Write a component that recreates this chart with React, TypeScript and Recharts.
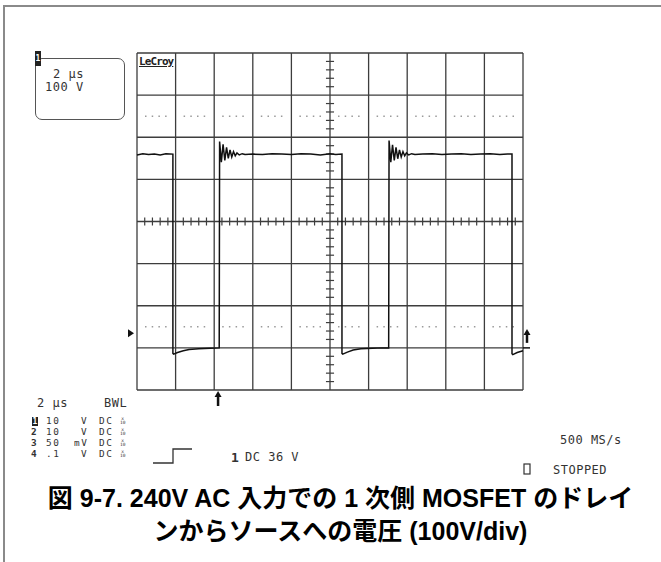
import React from "react";
import {
  LineChart,
  Line,
  XAxis,
  YAxis,
  CartesianGrid,
  ReferenceLine,
  ReferenceDot,
} from "recharts";

// time axis in µs (2 µs/div), drain voltage in V (100 V/div), 0 V = screen centre
const majorTimeTicks = [0, 2, 4, 6, 8, 10, 12, 14, 16, 18, 20];
const majorVoltTicks = [-400, -300, -200, -100, 0, 100, 200, 300, 400];
const cursorLevels = [250, -250];

const timeUs = [
  0, 0.3, 0.6, 0.9, 1.2, 1.5, 1.86,
  1.86, 1.9, 2.1, 2.4, 2.7, 3.2, 3.8, 4.26,
  4.28, 4.37, 4.46, 4.55, 4.64, 4.73, 4.82, 4.91, 5.0, 5.09, 5.18, 5.3, 5.45, 5.6,
  6.0, 6.5, 7.0, 7.5, 8.0, 8.5, 9.0, 9.5, 10.0, 10.3, 10.62,
  10.62, 10.66, 10.9, 11.2, 11.6, 12.2, 12.7, 13.04,
  13.06, 13.15, 13.24, 13.33, 13.42, 13.51, 13.6, 13.69, 13.78, 13.87, 13.96, 14.08, 14.23, 14.4,
  14.8, 15.3, 15.8, 16.3, 16.8, 17.3, 17.8, 18.3, 18.8, 19.2, 19.43,
  19.43, 19.47, 19.7, 20,
];
const drainV = [
  158, 161, 159, 160, 158, 161, 160,
  -313, -315, -311, -307, -304, -302, -301, -300,
  190, 141, 183, 145, 176, 150, 170, 153, 166, 156, 163, 158, 161, 159,
  160, 159, 161, 160, 159, 161, 160, 158, 161, 159, 160,
  -313, -315, -310, -305, -302, -301, -300, -300,
  192, 141, 182, 145, 176, 149, 170, 153, 166, 156, 163, 158, 161, 159,
  160, 161, 159, 160, 161, 159, 160, 161, 159, 160, 160,
  -314, -316, -311, -307,
];

const groundLevel = -265;
const triggerTime = 4.2;
const triggerLevel = -300;

const channelIds = ["1", "2", "3", "4"];
const channelScales = ["10", "10", "50", ".1"];
const channelUnits = ["V", "V", "mV", "V"];

const captionLines = [
  "図 9-7. 240V AC 入力での 1 次側 MOSFET のドレイ",
  "ンからソースへの電圧 (100V/div)",
];

const data = timeUs.map((t, i) => ({ t, v: drainV[i] }));
const minorTime = majorTimeTicks
  .slice(0, -1)
  .flatMap((t) => [0.4, 0.8, 1.2, 1.6].map((d) => t + d));
const minorVolt = majorVoltTicks
  .slice(0, -1)
  .flatMap((v) => [20, 40, 60, 80].map((d) => v + d));

const mono = '"DejaVu Sans Mono", monospace';
const ink = "#333";

function T({ x, y, s = 12, lh = 9, b = false, ls = 0.5, children }: any) {
  return (
    <div
      style={{
        position: "absolute",
        left: x,
        top: y - lh / 2,
        fontSize: s,
        lineHeight: `${lh}px`,
        fontWeight: b ? 700 : 400,
        letterSpacing: ls,
        whiteSpace: "pre",
        fontFamily: mono,
        color: ink,
      }}
    >
      {children}
    </div>
  );
}

function InvOne({ x, y, h = 13 }: any) {
  return (
    <div
      style={{
        position: "absolute",
        left: x,
        top: y,
        width: 6,
        height: h,
        background: "#222",
        color: "#fff",
        fontFamily: mono,
        fontWeight: 700,
        fontSize: 8,
        lineHeight: `${h}px`,
        textAlign: "center",
        overflow: "hidden",
      }}
    >
      1
    </div>
  );
}

function Probe({ x, y }: any) {
  return (
    <div
      style={{
        position: "absolute",
        left: x,
        top: y - 4.5,
        fontFamily: mono,
        fontSize: 4.5,
        lineHeight: "4.5px",
        textAlign: "center",
        color: ink,
      }}
    >
      x<br />10
    </div>
  );
}

const TriggerArrow = (p: any) => (
  <g>
    <line x1={p.cx} y1={p.cy + 6} x2={p.cx} y2={p.cy + 16} stroke="#111" strokeWidth={2.5} />
    <polygon
      points={`${p.cx - 3.5},${p.cy + 7} ${p.cx + 3.5},${p.cy + 7} ${p.cx},${p.cy + 1}`}
      fill="#111"
    />
  </g>
);

const GroundMarker = (p: any) => (
  <polygon
    points={`${p.cx - 9},${p.cy - 4} ${p.cx - 9},${p.cy + 4} ${p.cx - 3},${p.cy}`}
    fill="#111"
  />
);

const LevelMarker = (p: any) => (
  <g>
    <line x1={p.cx} y1={p.cy} x2={p.cx + 7} y2={p.cy} stroke="#111" strokeWidth={1.5} />
    <line x1={p.cx + 4} y1={p.cy - 5} x2={p.cx + 4} y2={p.cy - 15} stroke="#111" strokeWidth={2.5} />
    <polygon
      points={`${p.cx + 0.5},${p.cy - 13} ${p.cx + 7.5},${p.cy - 13} ${p.cx + 4},${p.cy - 19}`}
      fill="#111"
    />
  </g>
);

export default function App() {
  return (
    <div
      style={{
        position: "relative",
        width: 661,
        height: 562,
        background: "#fff",
        overflow: "hidden",
      }}
    >
      <style>{`body{margin:0}`}</style>
      <div
        style={{
          position: "absolute",
          left: 3,
          top: 5,
          width: 700,
          height: 600,
          borderLeft: "2px solid #8a8a8a",
          borderTop: "2px solid #8a8a8a",
        }}
      />

      <div style={{ position: "absolute", left: 0, top: 0 }}>
        <LineChart
          width={661}
          height={420}
          data={data}
          margin={{ top: 53, left: 137, right: 138, bottom: 30 }}
        >
          <CartesianGrid stroke="#3d3d3d" strokeWidth={1.3} />
          <XAxis dataKey="t" type="number" domain={[0, 20]} ticks={majorTimeTicks} hide />
          <YAxis type="number" domain={[-400, 400]} ticks={majorVoltTicks} hide />

          {cursorLevels.map((lv) => (
            <ReferenceLine
              key={lv}
              y={lv}
              stroke="#9a9a9a"
              strokeWidth={1.5}
              strokeDasharray="1.5 5.2 1.5 5.2 1.5 5.2 1.5 17"
              strokeDashoffset={-8}
            />
          ))}

          {minorVolt.map((v) => (
            <ReferenceLine
              key={"mv" + v}
              segment={[
                { x: 9.79, y: v },
                { x: 10.21, y: v },
              ]}
              stroke="#3d3d3d"
              strokeWidth={1.2}
            />
          ))}
          {minorTime.map((t) => (
            <ReferenceLine
              key={"mt" + t}
              segment={[
                { x: t, y: -9.5 },
                { x: t, y: 9.5 },
              ]}
              stroke="#3d3d3d"
              strokeWidth={1.2}
            />
          ))}

          <Line
            type="linear"
            dataKey="v"
            stroke="#111"
            strokeWidth={1.5}
            dot={false}
            isAnimationActive={false}
          />

          <ReferenceDot x={triggerTime} y={-400} ifOverflow="visible" shape={TriggerArrow} />
          <ReferenceDot x={0} y={groundLevel} ifOverflow="visible" shape={GroundMarker} />
          <ReferenceDot x={20} y={triggerLevel} ifOverflow="visible" shape={LevelMarker} />
        </LineChart>
      </div>

      {/* LeCroy label */}
      <div
        style={{
          position: "absolute",
          left: 139,
          top: 55,
          fontFamily: mono,
          fontWeight: 700,
          fontSize: 11,
          letterSpacing: -0.9,
          textDecoration: "underline",
          color: "#222",
        }}
      >
        LeCroy
      </div>

      {/* timebase box */}
      <div
        style={{
          position: "absolute",
          left: 35,
          top: 58,
          width: 88,
          height: 60,
          border: "1.5px solid #555",
          borderRadius: 7,
        }}
      />
      <InvOne x={35} y={51} h={15} />
      <T x={53} y={74}>2 μs</T>
      <T x={45} y={87}>100 V</T>

      {/* bottom status block */}
      <T x={37} y={403}>2 μs</T>
      <T x={104} y={403}>BWL</T>
      {channelIds.map((id, i) => {
        const y = 421 + i * 11;
        return (
          <React.Fragment key={id}>
            {i === 0 ? (
              <InvOne x={32} y={y - 4.5} h={9} />
            ) : (
              <T x={31} y={y} s={9.4} lh={8} b ls={0}>
                {id}
              </T>
            )}
            <T x={46} y={y} s={9.4} lh={8} ls={1.6}>{channelScales[i]}</T>
            <T x={channelUnits[i] === "mV" ? 74 : 81} y={y} s={9.4} lh={8} ls={1.6}>
              {channelUnits[i]}
            </T>
            <T x={99} y={y} s={9.4} lh={8} ls={1.6}>DC</T>
            <Probe x={120} y={y} />
          </React.Fragment>
        );
      })}

      <svg
        style={{ position: "absolute", left: 0, top: 0 }}
        width={661}
        height={562}
        pointerEvents="none"
      >
        <polyline
          points="153,463 173,463 173,449 192,449"
          fill="none"
          stroke="#333"
          strokeWidth={1.3}
        />
        <rect x={524} y={464} width={6} height={10} fill="none" stroke="#333" strokeWidth={1.2} />
      </svg>
      <T x={231} y={457} s={13} b ls={0}>1</T>
      <T x={245} y={457}>DC 36 V</T>
      <T x={560} y={440}>500 MS/s</T>
      <T x={553} y={470}>STOPPED</T>

      {/* caption */}
      <div
        style={{
          position: "absolute",
          left: 10,
          top: 482,
          width: 661,
          textAlign: "center",
          fontFamily: '"Liberation Sans", "Noto Sans CJK JP", sans-serif',
          fontWeight: 700,
          fontSize: 25,
          lineHeight: "33px",
          color: "#000",
          whiteSpace: "nowrap",
        }}
      >
        {captionLines.map((l) => (
          <div key={l}>{l}</div>
        ))}
      </div>
    </div>
  );
}
